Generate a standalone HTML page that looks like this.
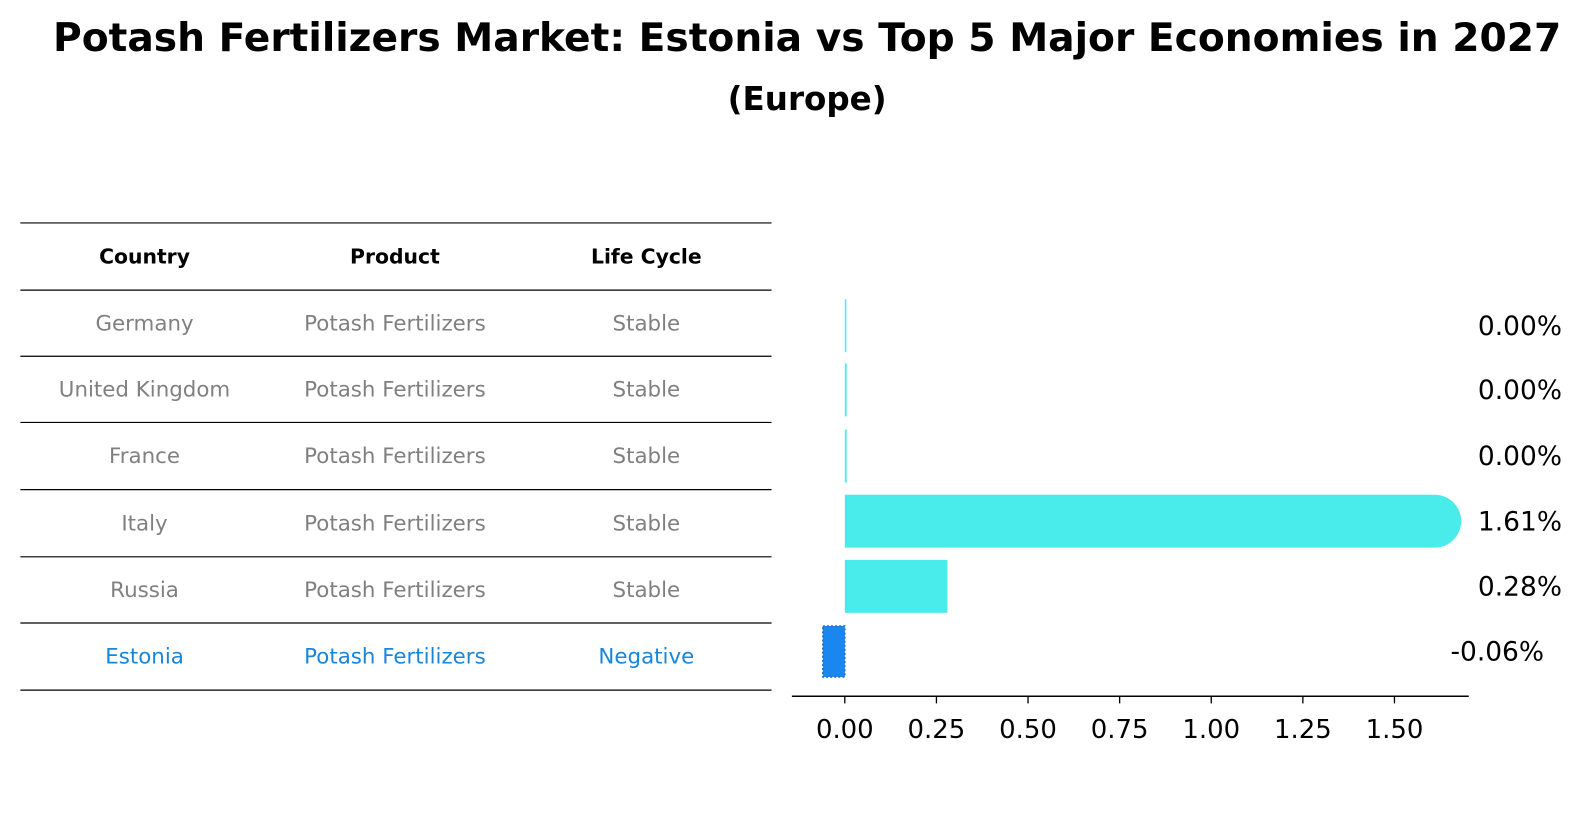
<!DOCTYPE html>
<html><head><meta charset="utf-8"><style>
body{margin:0;background:#fff;width:1596px;height:823px;overflow:hidden;font-family:"DejaVu Sans","Liberation Sans",sans-serif}
svg text{font-family:"DejaVu Sans","Liberation Sans",sans-serif}
</style></head><body>
<svg width="1596" height="823" viewBox="0 0 1568 808.5" preserveAspectRatio="none">
<text x="793" y="50" text-anchor="middle" font-size="38.5" font-weight="bold">Potash Fertilizers Market: Estonia vs Top 5 Major Economies in 2027</text>
<text x="793" y="108" text-anchor="middle" font-size="32" font-weight="bold">(Europe)</text>
<g id="table"></g>
<g id="bars"></g>
</svg>
<script>
const countries=["Germany","United Kingdom","France","Italy","Russia","Estonia"];
const products=["Potash Fertilizers","Potash Fertilizers","Potash Fertilizers","Potash Fertilizers","Potash Fertilizers","Potash Fertilizers"];
const lifeCycles=["Stable","Stable","Stable","Stable","Stable","Negative"];
const values=[0.003,0.005,0.005,1.61,0.28,-0.06];
const valueLabels=["0.00%","0.00%","0.00%","1.61%","0.28%","-0.06%"];
const ticks=[0,0.25,0.5,0.75,1.0,1.25,1.5];
const tickLabels=["0.00","0.25","0.50","0.75","1.00","1.25","1.50"];
const NS="http://www.w3.org/2000/svg";
function mk(t,a,p,txt){const e=document.createElementNS(NS,t);for(const k in a)e.setAttribute(k,a[k]);if(txt!==undefined)e.textContent=txt;p.appendChild(e);return e;}
const tbl=document.getElementById('table');
const lineY=[219,285,350,415,481,547,612,678];
const colX=[142,388,635];
lineY.forEach((y,i)=>{const l=mk('line',{x1:20,x2:758,y1:y,y2:y,stroke:'#000','stroke-width':1.2},tbl);

});
["Country","Product","Life Cycle"].forEach((h,j)=>{const t=mk('text',{x:colX[j],y:259,'text-anchor':'middle','font-size':20,'font-weight':'bold'},tbl,h);

});
countries.forEach((c,i)=>{const y=(lineY[i+1]+lineY[i+2])/2+7;const col=i===5?'#1a86d9':'#808080';
[c,products[i],lifeCycles[i]].forEach((v,j)=>{const t=mk('text',{x:colX[j],y:y,'text-anchor':'middle','font-size':21,fill:col},tbl,v);

});});
const bars=document.getElementById('bars');
const x0=830,ppu=360;const X=v=>x0+v*ppu;
const rowC=[320,383,448,512,576,640];const bh=52;
const maxV=Math.max(...values);
values.forEach((v,i)=>{const y=rowC[i]-bh/2;let e;
if(v<0){e=mk('rect',{x:X(v),y:y+1,width:X(0)-X(v),height:bh-2,fill:'#1a86f0',stroke:'#1a6fd0','stroke-dasharray':'2,2','stroke-width':1.5},bars);}
else if(v===maxV){const xe=X(v);e=mk('path',{d:`M${X(0)},${y} H${xe} a${bh/2},${bh/2} 0 0 1 0,${bh} H${X(0)} Z`,fill:'#4aeceb'},bars);}
else{e=mk('rect',{x:X(0),y:y,width:Math.max(1.5,X(v)-X(0)),height:bh,fill:'#4aeceb'},bars);}


const t=mk('text',{x:v<0?1425:1452,y:rowC[i]+9,'font-size':26},bars,valueLabels[i]);

});
const ax=mk('line',{x1:778,x2:1443,y1:684,y2:684,stroke:'#000','stroke-width':1.5},bars);


ticks.forEach((t,i)=>{const tk=mk('line',{x1:X(t),x2:X(t),y1:684,y2:691,stroke:'#000','stroke-width':1.3},bars);


const l=mk('text',{x:X(t),y:725,'text-anchor':'middle','font-size':25.5},bars,tickLabels[i]);

});
</script>
</body></html>
